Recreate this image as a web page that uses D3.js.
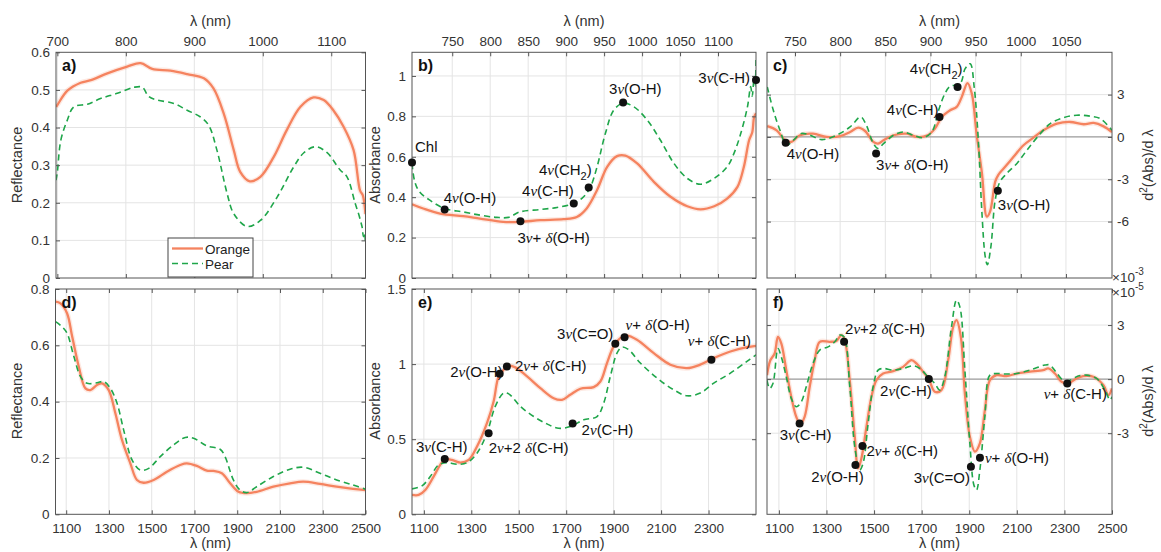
<!DOCTYPE html>
<html><head><meta charset="utf-8">
<script src="https://cdn.jsdelivr.net/npm/d3@7"></script>
<style>body{margin:0;background:#fff}</style>
</head><body>
<svg id="chart" width="1161" height="552" xmlns="http://www.w3.org/2000/svg"></svg>
<script>
// ---------------- DATA ----------------
const seriesNames = ["Orange", "Pear"];

// a) reflectance 700-1150 nm
const aOrange = [[698,0.455],[700,0.46],[714.6,0.498],[734,0.519],[749,0.526],[773,0.544],[802,0.562],[821.5,0.571],[838.5,0.556],[865,0.551],[889.5,0.542],[914,0.531],[928,0.504],[943,0.437],[957.6,0.34],[967,0.282],[981,0.257],[996.5,0.269],[1016,0.322],[1035,0.393],[1055,0.455],[1074,0.48],[1089,0.473],[1103,0.446],[1118,0.402],[1132.6,0.34],[1142,0.233],[1146,0.22],[1150,0.17]];
const aPear = [[698,0.26],[700,0.282],[705,0.366],[714.6,0.42],[724,0.455],[744,0.462],[763,0.477],[787.5,0.491],[812,0.507],[824,0.507],[833.7,0.482],[846,0.473],[870,0.464],[889.5,0.446],[909,0.428],[921,0.406],[933,0.34],[948,0.224],[957.6,0.171],[977,0.137],[996.5,0.153],[1021,0.215],[1045,0.295],[1060,0.333],[1077,0.349],[1094,0.333],[1113,0.287],[1123,0.269],[1135,0.198],[1140,0.17],[1143,0.15],[1145,0.136],[1147,0.11],[1148.5,0.12],[1150,0.09]];

// b) absorbance 700-1150 nm
const bOrange = [[697,0.365],[711.7,0.344],[734,0.319],[764.5,0.306],[786.5,0.294],[817,0.278],[839,0.278],[866,0.286],[896.6,0.291],[914,0.302],[927,0.344],[940.7,0.435],[954,0.55],[967,0.603],[978,0.606],[993.5,0.567],[1015.5,0.476],[1037.5,0.402],[1059.5,0.355],[1077,0.34],[1095,0.355],[1112,0.393],[1125.6,0.451],[1134,0.55],[1141,0.683],[1145,0.72],[1147.6,0.798],[1150,0.815]];
const bPear = [[697,0.567],[700.7,0.476],[707,0.426],[720.5,0.385],[740,0.344],[764.5,0.327],[786.5,0.311],[808.6,0.3],[824,0.3],[839,0.327],[866,0.339],[888,0.349],[910,0.369],[923,0.402],[932,0.451],[940.7,0.55],[951.7,0.716],[962.7,0.831],[975,0.865],[989,0.848],[1006.7,0.782],[1024,0.683],[1042,0.567],[1059.5,0.493],[1077,0.464],[1095,0.493],[1112,0.55],[1121,0.617],[1130,0.716],[1138.8,0.848],[1143,0.947],[1145,0.9],[1147.6,0.997],[1149,0.95],[1150,1.096]];
const bMarks = [[697,0.572,"Chl"],[740,0.339,"4ν(O-H)"],[839.8,0.281,"3ν+ δ(O-H)"],[910,0.369,"4ν(C-H)"],[929.7,0.448,"4ν(CH_2)"],[975,0.868,"3ν(O-H)"],[1150,0.98,"3ν(C-H)"]];

// c) second derivative (x10^-3) 720-1100 nm
const cOrange = [[719.3,0.76],[729.7,0.47],[739,-0.23],[746,-0.35],[755.5,0.12],[770,0.23],[785,0],[800,0.05],[811,0.35],[820,0.66],[827.6,0.42],[836.8,-0.35],[842,-0.47],[848,-0.24],[859,0.12],[873.8,0.23],[885,0],[896,0.09],[905,0.59],[912.6,1.42],[921.8,1.89],[929,2.13],[934.7,2.84],[941,3.82],[945.8,3.07],[951,0.24],[957,-2.58],[962.4,-5.65],[966,-5.29],[971.7,-3.17],[975,-2.7],[981,-2.24],[992,-1.41],[1003,-0.59],[1014,-0.05],[1025,0.47],[1040,0.94],[1054.8,1.06],[1069.6,0.9],[1080.7,0.99],[1091.7,0.75],[1101,0.35]];
const cPear = [[719.3,3.54],[726,1.89],[733.4,0.47],[740.8,-0.59],[748,-0.24],[757,0.24],[766.6,0.12],[779.6,-0.19],[796,0.12],[811,0.71],[822.8,1.42],[829,0.83],[836.8,-0.47],[842,-0.82],[848,-0.47],[859,0.12],[870,0.35],[881,0.12],[892,-0.05],[901.5,0.35],[909,1.89],[916,3.07],[921.8,3.59],[932.9,3.78],[938.4,4.84],[944,5.19],[948.4,3.54],[953,-0.24],[957,-5.41],[960.6,-8.47],[963,-9.06],[966.9,-7.77],[971.7,-4.47],[977,-3.17],[984.6,-2.58],[995.7,-1.88],[1006.8,-0.94],[1017.9,-0.05],[1032.6,0.94],[1047.4,1.37],[1062,1.54],[1077,1.47],[1088,1.3],[1101,0.47]];
const cMarks = [[739.7,-0.42,"4ν(O-H)"],[839.8,-1.17,"3ν+ δ(O-H)"],[910,1.42,"4ν(C-H)"],[930,3.54,"4ν(CH_2)"],[974.6,-3.81,"3ν(O-H)"]];

// d) reflectance 1050-2500 nm
const dOrange = [[1050,0.755],[1073,0.749],[1104,0.714],[1128,0.631],[1159,0.524],[1190,0.447],[1213,0.441],[1244,0.459],[1268,0.465],[1299,0.441],[1330,0.359],[1361,0.264],[1400,0.181],[1431,0.122],[1462,0.112],[1509,0.122],[1571,0.151],[1633,0.175],[1664,0.181],[1711,0.172],[1758,0.155],[1789,0.154],[1828,0.146],[1867,0.11],[1906,0.08],[1945,0.075],[1991,0.08],[2069,0.098],[2147,0.11],[2209,0.116],[2287,0.108],[2365,0.098],[2442,0.09],[2500,0.086]];
const dPear = [[1050,0.684],[1081,0.666],[1104,0.643],[1136,0.56],[1167,0.489],[1198,0.465],[1244,0.467],[1276,0.471],[1307,0.447],[1338,0.394],[1369,0.299],[1408,0.193],[1447,0.157],[1486,0.163],[1540,0.205],[1602,0.246],[1657,0.273],[1696,0.27],[1758,0.243],[1820,0.231],[1843,0.205],[1882,0.122],[1913,0.086],[1945,0.077],[1991,0.098],[2069,0.134],[2147,0.16],[2209,0.167],[2287,0.146],[2365,0.122],[2442,0.104],[2500,0.089]];

// e) absorbance 1050-2500 nm
const eOrange = [[1050,0.129],[1078,0.129],[1106,0.162],[1141,0.251],[1169,0.329],[1190.5,0.367],[1218.6,0.362],[1254,0.344],[1289,0.362],[1324,0.451],[1366,0.607],[1394,0.751],[1415,0.918],[1436,0.962],[1457.5,0.989],[1485.6,0.978],[1535,0.918],[1591,0.84],[1647,0.773],[1682,0.762],[1717,0.796],[1759.6,0.836],[1815.8,0.847],[1844,0.884],[1872,1.007],[1900,1.118],[1928,1.173],[1956,1.189],[1998,1.162],[2069,1.073],[2139,0.996],[2209,0.973],[2265,0.996],[2322,1.04],[2392,1.084],[2462,1.113],[2500,1.122]];
const ePear = [[1050,0.169],[1092,0.189],[1127,0.251],[1162,0.329],[1197.5,0.344],[1240,0.333],[1282,0.344],[1324,0.407],[1366,0.54],[1401,0.718],[1436,0.807],[1457.5,0.802],[1507,0.718],[1563,0.651],[1619,0.602],[1668,0.573],[1717,0.584],[1773.6,0.629],[1830,0.651],[1858,0.74],[1886,0.918],[1914,1.073],[1935,1.113],[1963,1.096],[2012.5,1.007],[2083,0.907],[2153,0.829],[2209,0.789],[2265,0.807],[2322,0.873],[2392,0.94],[2462,1.018],[2500,1.062]];
const eMarks = [[1188,0.369,"3ν(C-H)"],[1373,0.54,"2ν+2 δ(C-H)"],[1419.5,0.936,"2ν(O-H)"],[1450,0.984,"2ν+ δ(C-H)"],[1727,0.604,"2ν(C-H)"],[1907,1.136,"3ν(C=O)"],[1946,1.178,"ν+ δ(O-H)"],[2312,1.029,"ν+ δ(C-H)"]];

// f) second derivative (x10^-5) 1050-2500 nm
const fOrange = [[1050,0.22],[1064,1.05],[1082,1.42],[1096,2.34],[1110,1.98],[1131,0.5],[1152,-0.98],[1173,-2.09],[1190,-2.49],[1208,-2.09],[1229.5,-0.42],[1250.5,1.05],[1271.6,2.07],[1313.6,2.07],[1341.7,2.12],[1362.7,2.44],[1376.7,2.16],[1397.8,-0.06],[1418.8,-3.19],[1432.8,-4.95],[1446.9,-4.39],[1468,-2.64],[1489,-0.98],[1510,-0.06],[1538,0.31],[1580,0.44],[1622,0.68],[1657,1.05],[1678,0.87],[1706,0.41],[1730,0],[1755,-0.7],[1783,-0.61],[1811.5,1.05],[1832.5,2.9],[1846.5,3.27],[1864.8,2.34],[1881.6,-0.79],[1902.6,-3.19],[1923.6,-4.02],[1944.7,-3.56],[1965.7,-1.72],[1986.8,-0.06],[2014.8,0.22],[2056.9,0.17],[2098.9,0.31],[2155,0.41],[2211,0.5],[2232,0.59],[2260,0.31],[2288,-0.15],[2316,-0.24],[2351,0.04],[2379,0.17],[2421.5,0.13],[2463.5,-0.33],[2484.6,-0.89],[2500,-0.52]];
const fPear = [[1050,-0.06],[1061,-0.52],[1075,-0.24],[1096,1.7],[1110,1.24],[1131,0.13],[1152,-1.07],[1173,-1.53],[1194,-1.26],[1215,-0.42],[1243.5,0.87],[1271.6,1.61],[1306.6,1.79],[1334.7,2.07],[1355.7,2.44],[1374,2.34],[1397.8,-0.42],[1418.8,-3.75],[1439.9,-5.04],[1453.9,-4.67],[1475,-2.46],[1496,-0.42],[1517,0.5],[1538,0.59],[1580,0.5],[1622,0.59],[1664,0.74],[1692,0.59],[1727,0.13],[1755,-0.24],[1776,-0.61],[1797,0.13],[1825.5,2.9],[1846.5,4.38],[1860.6,4.01],[1881.6,0.5],[1902.6,-3.56],[1919.5,-5.87],[1930.6,-6.15],[1944.7,-5.04],[1965.7,-2.09],[1986.8,0.22],[2014.8,0.31],[2056.9,0.28],[2098.9,0.31],[2155,0.5],[2218,0.78],[2239,0.78],[2267,0.35],[2295,-0.06],[2323,-0.06],[2358,0.17],[2393,0.22],[2435.5,0.04],[2470.6,-0.61],[2491.6,-1.16],[2500,-0.98]];
const fMarks = [[1187,-2.46,"3ν(C-H)"],[1374,2.07,"2ν+2 δ(C-H)"],[1421.6,-4.76,"2ν(O-H)"],[1451,-3.71,"2ν+ δ(C-H)"],[1730,0,"2ν(C-H)"],[1907,-4.86,"3ν(C=O)"],[1945,-4.36,"ν+ δ(O-H)"],[2312,-0.24,"ν+ δ(C-H)"]];

// tick values
const xTicksA = [700,800,900,1000,1100];
const xTicksB = [750,800,850,900,950,1000,1050,1100];
const xTicksC = [750,800,850,900,950,1000,1050];
const xTicksLong = [1100,1300,1500,1700,1900,2100,2300,2500];
const xTicksE = [1100,1300,1500,1700,1900,2100,2300];
const yTicksA = [0,0.1,0.2,0.3,0.4,0.5,0.6];
const yTicksB = [0,0.2,0.4,0.6,0.8,1];
const yTicksC = [-6,-3,0,3];
const yTicksD = [0,0.2,0.4,0.6,0.8];
const yTicksE = [0,0.5,1,1.5];
const yTicksF = [-3,0,3];

// ---------------- STYLE / LAYOUT ----------------
const FONT = '"Liberation Sans", Arial, Helvetica, sans-serif';
const SERIF = '"Liberation Serif", "DejaVu Serif", serif';
const ORANGE = "#f5835f", GREEN = "#1fa64a";
const svg = d3.select("#chart");

// label offsets: [dx, dy, anchor]
const bLab = [[3,-10,"start"],[-1,-7,"start"],[-3,22,"start"],[0,-7,"end"],[3,-12,"end"],[-14,-9,"start"],[-6,3,"end"]];
const cLab = [[1,16,"start"],[0,17,"start"],[-1,-2,"end"],[5,-13,"end"],[0,19,"start"]];
const eLab = [[-3,-7,"middle"],[0,20,"start"],[3,3,"end"],[8,4,"start"],[9,11,"start"],[-2,-5,"end"],[1,-7,"start"],[8,-14,"middle"]];
const fLab = [[6,17,"middle"],[1,-8,"start"],[-18,17,"middle"],[4,10,"start"],[3,17,"end"],[-1,16,"end"],[5,5,"start"],[8,16,"middle"]];

function rich(t, str) {
  const parts = str.split(/(ν|δ|_2)/).filter(s => s.length);
  let pendingUp = false;
  parts.forEach(p => {
    const ts = t.append("tspan");
    if (p === "ν" || p === "δ") {
      ts.attr("font-family", SERIF).attr("font-style", "italic").text(p);
    } else if (p === "_2") {
      ts.attr("dy", 5).attr("font-size", 11).text("2");
      pendingUp = true;
      return;
    } else ts.text(p);
    if (pendingUp) { ts.attr("dy", -5); pendingUp = false; }
  });
}

let clipId = 0;
function panel(cfg) {
  const x = d3.scaleLinear().domain(cfg.xd).range(cfg.xr);
  const y = d3.scaleLinear().domain(cfg.yd).range([cfg.yr[1], cfg.yr[0]]);
  const g = svg.append("g");
  const [x0, x1] = cfg.xr, [y0, y1] = cfg.yr;
  // grid
  g.selectAll(".vg").data(cfg.xt.filter(v => x(v) > x0 + 1 && x(v) < x1 - 1)).join("line")
    .attr("x1", d => x(d)).attr("x2", d => x(d)).attr("y1", y0).attr("y2", y1)
    .attr("stroke", "#e4e4e4").attr("stroke-width", 1);
  g.selectAll(".hg").data(cfg.yt.filter(v => y(v) > y0 + 1 && y(v) < y1 - 1 && !(cfg.zero && v === 0))).join("line")
    .attr("x1", x0).attr("x2", x1).attr("y1", d => y(d)).attr("y2", d => y(d))
    .attr("stroke", "#e4e4e4").attr("stroke-width", 1);
  if (cfg.zero) g.append("line").attr("x1", x0).attr("x2", x1).attr("y1", y(0)).attr("y2", y(0))
    .attr("stroke", "#9a9a9a").attr("stroke-width", 1.2);
  // clip
  const id = "clip" + (clipId++);
  svg.append("clipPath").attr("id", id).append("rect").attr("x", x0).attr("y", y0).attr("width", x1 - x0).attr("height", y1 - y0);
  const line = d3.line().x(d => x(d[0])).y(d => y(d[1])).curve(d3.curveCatmullRom.alpha(0.5));
  const lg = g.append("g").attr("clip-path", `url(#${id})`);
  lg.append("path").datum(cfg.orange).attr("d", line).attr("fill", "none").attr("stroke", ORANGE).attr("stroke-opacity", 0.18).attr("stroke-width", 5);
  lg.append("path").datum(cfg.orange).attr("d", line).attr("fill", "none").attr("stroke", ORANGE).attr("stroke-width", 2.3);
  lg.append("path").datum(cfg.pear).attr("d", line).attr("fill", "none").attr("stroke", GREEN).attr("stroke-width", 1.6).attr("stroke-dasharray", "6,4");
  // box
  g.append("rect").attr("x", x0).attr("y", y0).attr("width", x1 - x0).attr("height", y1 - y0)
    .attr("fill", "none").attr("stroke", "#555").attr("stroke-width", 1);
  // axes (inward ticks)
  const fmt = d => String(d);
  const mk = (axis, tr, labels, pad) => {
    const a = g.append("g").attr("transform", tr).call(axis.tickSizeInner(-4).tickSizeOuter(0).tickPadding(pad).tickFormat(labels ? fmt : () => ""));
    a.select(".domain").remove();
    a.selectAll("line").attr("stroke", "#555");
    a.selectAll("text").attr("font-family", FONT).attr("font-size", 13.5).attr("fill", "#333");
    return a;
  };
  mk(d3.axisTop(x).tickValues(cfg.xt), `translate(0,${y0})`, cfg.top, 6);
  mk(d3.axisBottom(x).tickValues(cfg.xt), `translate(0,${y1})`, !cfg.top, 9);
  mk(d3.axisLeft(y).tickValues(cfg.yt), `translate(${x0},0)`, !cfg.right, 6);
  mk(d3.axisRight(y).tickValues(cfg.yt), `translate(${x1},0)`, cfg.right, 5);
  // panel letter
  g.append("text").attr("x", x0 + 6).attr("y", y0 + 19).attr("font-family", FONT).attr("font-weight", "bold")
    .attr("font-size", 16).attr("fill", "#111").text(cfg.letter);
  // markers
  if (cfg.marks) {
    cfg.marks.forEach((m, i) => {
      const px = x(m[0]), py = y(m[1]);
      g.append("circle").attr("cx", px).attr("cy", py).attr("r", 4).attr("fill", "#111");
      const L = cfg.lab[i];
      const t = g.append("text").attr("x", px + L[0]).attr("y", py + L[1]).attr("text-anchor", L[2])
        .attr("font-family", FONT).attr("font-size", 15).attr("fill", "#111");
      rich(t, m[2]);
    });
  }
  return {x, y, g};
}

panel({letter:"a)", xr:[56,365.5], yr:[52.3,278], xd:[698,1150], yd:[0,0.6], xt:xTicksA, yt:yTicksA, top:true, orange:aOrange, pear:aPear});
panel({letter:"b)", xr:[412,756], yr:[52.3,278], xd:[697,1150], yd:[0,1.117], xt:xTicksB, yt:yTicksB, top:true, orange:bOrange, pear:bPear, marks:bMarks, lab:bLab});
panel({letter:"c)", xr:[767,1112], yr:[52.3,278], xd:[719,1101], yd:[-10,6], xt:xTicksC, yt:yTicksC, top:true, right:true, zero:true, orange:cOrange, pear:cPear, marks:cMarks, lab:cLab});
panel({letter:"d)", xr:[55.5,365.5], yr:[289,514.3], xd:[1050,2500], yd:[0,0.8], xt:xTicksLong, yt:yTicksD, orange:dOrange, pear:dPear});
panel({letter:"e)", xr:[412,756], yr:[289,514.3], xd:[1050,2500], yd:[0,1.5], xt:xTicksE, yt:yTicksE, orange:eOrange, pear:ePear, marks:eMarks, lab:eLab});
panel({letter:"f)", xr:[767,1112], yr:[289,514.3], xd:[1050,2500], yd:[-7.5,5], xt:xTicksLong, yt:yTicksF, right:true, zero:true, orange:fOrange, pear:fPear, marks:fMarks, lab:fLab});

// axis titles
const title = (x, y, rot, txt) => {
  const t = svg.append("text").attr("transform", `translate(${x},${y}) rotate(${rot})`).attr("text-anchor", "middle")
    .attr("font-family", FONT).attr("font-size", 14.5).attr("fill", "#333");
  return t.text(txt);
};
[[210.5],[584],[939.5]].forEach(([cx]) => { title(cx, 26, 0, "λ (nm)"); title(cx, 548, 0, "λ (nm)"); });
title(22, 165, -90, "Reflectance");
title(22, 401, -90, "Reflectance");
title(380, 165, -90, "Absorbance");
title(380, 401, -90, "Absorbance");
[[165],[401]].forEach(([cy]) => {
  const t = svg.append("text").attr("transform", `translate(1153,${cy}) rotate(-90)`).attr("text-anchor", "middle")
    .attr("font-family", FONT).attr("font-size", 14.5).attr("fill", "#333");
  t.append("tspan").text("d");
  t.append("tspan").attr("dy", -6).attr("font-size", 10).text("2");
  t.append("tspan").attr("dy", 6).text("(Abs)/d λ");
});
// exponent labels
[[282,"-3"],[297,"-5"]].forEach(([yy, e]) => {
  const t = svg.append("text").attr("x", 1112).attr("y", yy).attr("font-family", FONT).attr("font-size", 13.5).attr("fill", "#333");
  t.append("tspan").text("×10");
  t.append("tspan").attr("dy", -7).attr("font-size", 10).text(e);
});

// legend in a)
const lgd = svg.append("g");
lgd.append("rect").attr("x", 168).attr("y", 238).attr("width", 85).attr("height", 39).attr("fill", "#fff").attr("stroke", "#444").attr("stroke-width", 1);
seriesNames.forEach((n, i) => {
  const yy = 248.5 + i * 15;
  lgd.append("line").attr("x1", 172).attr("x2", 203).attr("y1", yy).attr("y2", yy)
    .attr("stroke", i ? GREEN : ORANGE).attr("stroke-width", i ? 1.6 : 2.3).attr("stroke-dasharray", i ? "6,4" : null);
  lgd.append("text").attr("x", 205).attr("y", yy + 5).attr("font-family", FONT).attr("font-size", 13.5).attr("fill", "#222").text(n);
});
</script>
</body></html>
